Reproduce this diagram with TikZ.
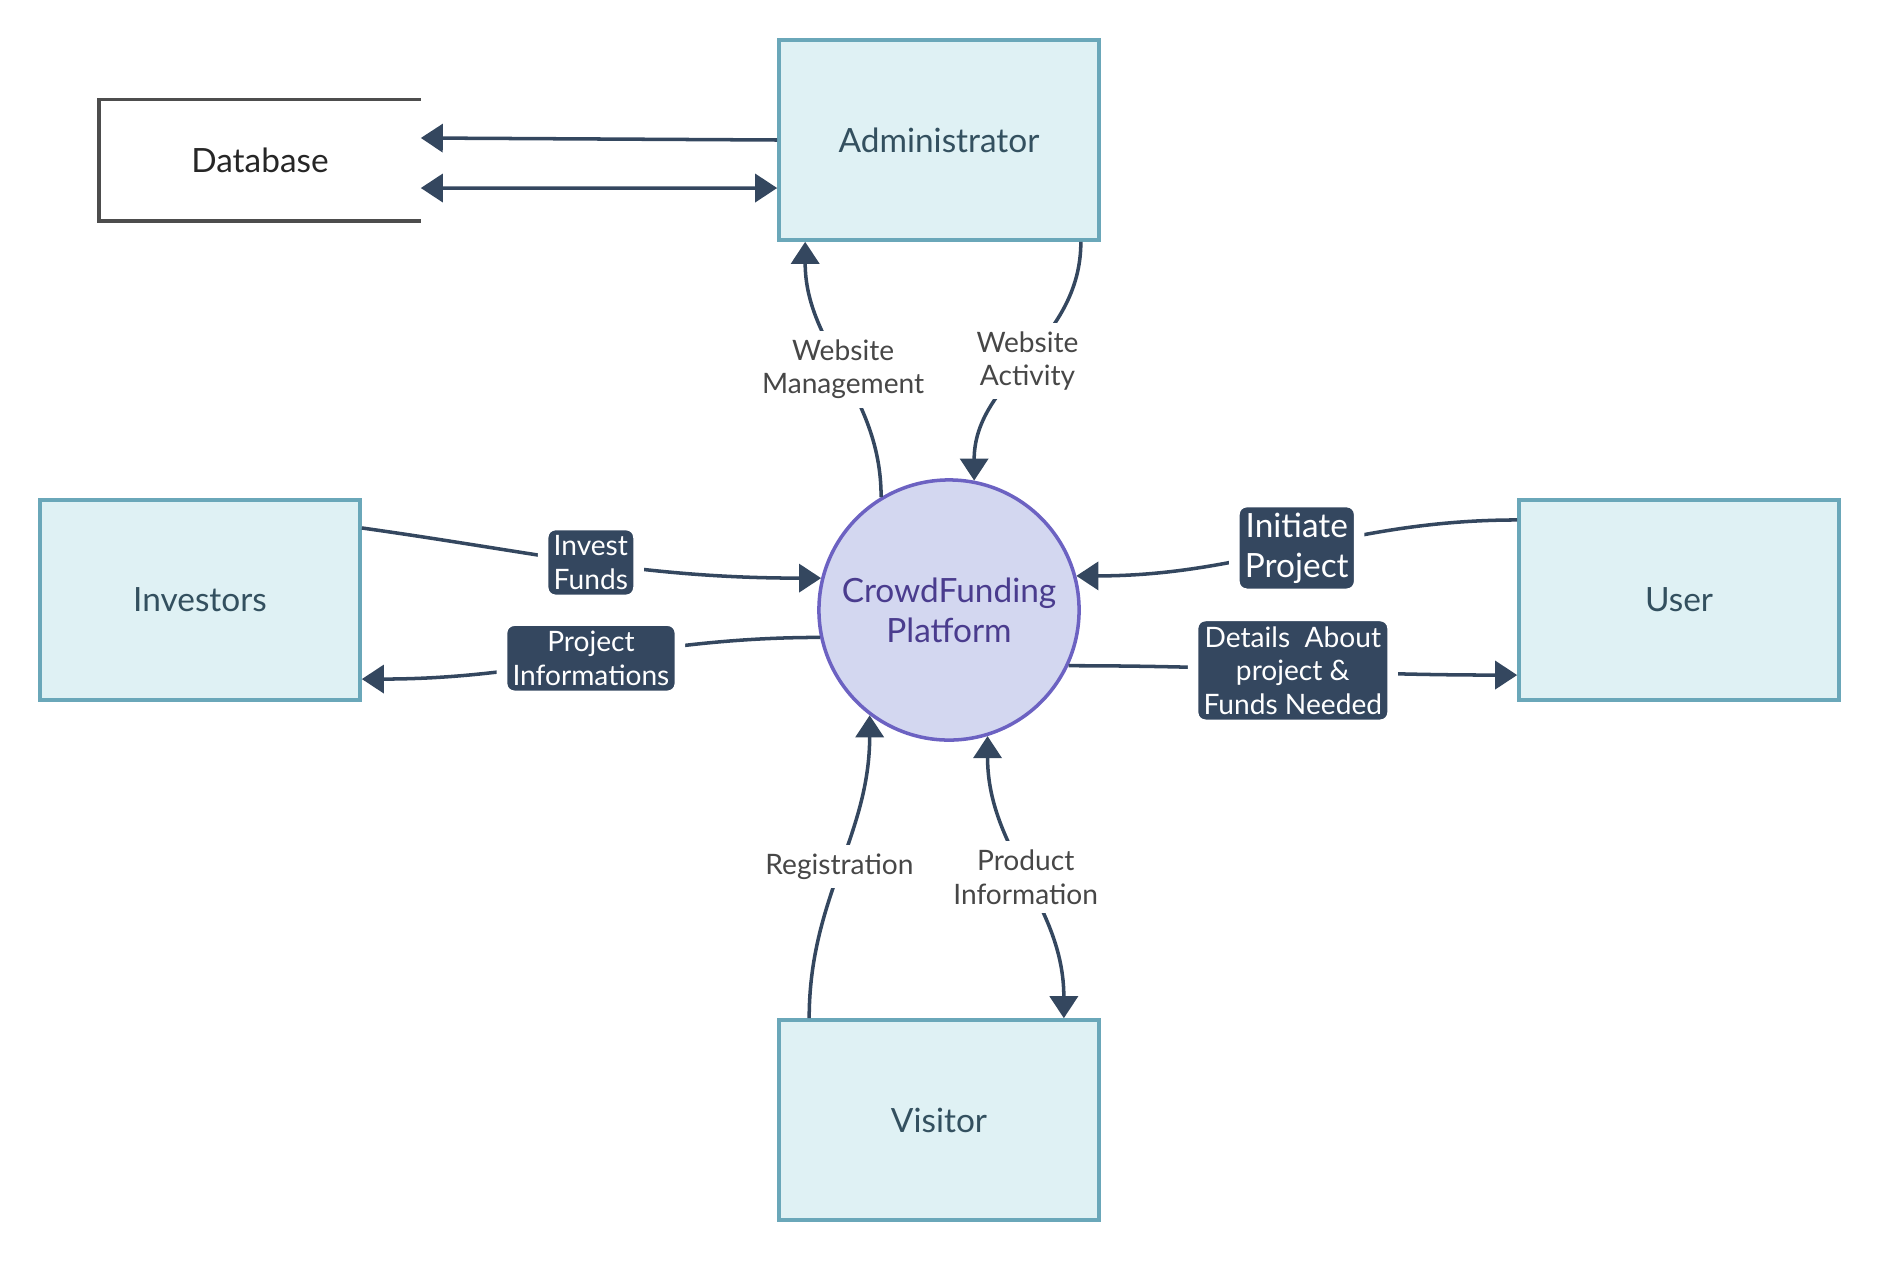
\documentclass[tikz,border=0pt]{standalone}
\usepackage{fontspec}
\setmainfont{Lato}
\usetikzlibrary{arrows.meta}
\definecolor{boxfill}{HTML}{DFF1F4}
\definecolor{boxline}{HTML}{6AA7B9}
\definecolor{boxtext}{HTML}{33505F}
\definecolor{cffill}{HTML}{D3D7F0}
\definecolor{cfline}{HTML}{6C62C2}
\definecolor{cftext}{HTML}{4A3C8E}
\definecolor{flowcol}{HTML}{34475F}
\definecolor{flowgray}{HTML}{474747}
\definecolor{dbline}{HTML}{4D4D4D}
\begin{document}
\begin{tikzpicture}[x=0.01cm,y=-0.01cm,>={Triangle[length=2.2mm,width=2.8mm]},
 ent/.style={draw=boxline,fill=boxfill,line width=1pt,minimum width=3.2cm,minimum height=2cm,text=boxtext,font=\fontsize{9.5}{11.4}\selectfont},
 proc/.style={circle,draw=cfline,fill=cffill,line width=1pt,minimum size=2.6cm,text=cftext,align=center,font=\fontsize{9.5}{11.4}\selectfont},
 flowline/.style={draw=flowcol,line width=1pt},
 flowtxt/.style={fill=white,text=flowgray,align=center,inner sep=2.5pt,font=\fontsize{8}{9.5}\selectfont},
 flowtag/.style={fill=flowcol,draw=white,line width=3pt,rounded corners=3.5pt,text=white,align=center,inner xsep=3pt,inner ysep=3pt,font=\fontsize{8}{9.5}\selectfont}]
 \useasboundingbox (0,0) rectangle (1880,1260);
 \node[ent] (admin) at (939,140) {Administrator};
 \node[ent] (inv) at (200,600) {Investors};
 \node[ent] (user) at (1679,600) {User};
 \node[ent] (vis) at (939,1120) {Visitor};
 \node[proc] (cf) at (949,610) {CrowdFunding\\Platform};
 \node[minimum width=3.2cm,minimum height=1.2cm,text=black!85,font=\fontsize{9.5}{11.4}\selectfont] (db) at (260,160) {Database};
 \draw[dbline,line width=1pt] (db.north east) -- (db.north west) -- (db.south west) -- (db.south east);
 \draw[flowline,->] (admin.west) -- ([yshift=0.22cm]db.east);
 \draw[flowline,<->] ([yshift=-0.28cm]db.east) -- ([yshift=-0.48cm]admin.west);
 \draw[flowline,->] (cf.121) to[out=90,in=-90] node[flowtxt] (lwm) {Website\\Management} ([xshift=0.28cm]admin.south west);
 \draw[flowline,->] ([xshift=-0.2cm]admin.south east) to[out=-90,in=90] node[flowtxt] (lwa) {Website\\Activity} (cf.79);
 \draw[flowline,->] ([yshift=0.72cm]inv.east) to[out=-8,in=180] node[flowtag] (lif) {Invest\\Funds} (cf.166);
 \draw[flowline,->] (cf.192) to[out=180,in=0] node[flowtag] (lpi) {Project\\Informations} ([yshift=-0.79cm]inv.east);
 \draw[flowline,->] ([yshift=0.8cm]user.west) to[out=180,in=0] node[flowtag,font=\fontsize{9.5}{11.4}\selectfont] (lip) {Initiate\\Project} (cf.15);
 \draw[flowline,->] (cf.-25) to[out=0,in=180] node[flowtag] (ldf) {Details\ \ About\\project \&\\Funds Needed} ([yshift=-0.75cm]user.west);
 \draw[flowline,->] ([xshift=0.32cm]vis.north west) to[out=90,in=-90] node[flowtxt] (lreg) {Registration} (cf.-127);
 \draw[flowline,<->] (cf.-73) to[out=-90,in=90] node[flowtxt] (lpr) {Product\\Information} ([xshift=-0.37cm]vis.north east);
\end{tikzpicture}
\end{document}
